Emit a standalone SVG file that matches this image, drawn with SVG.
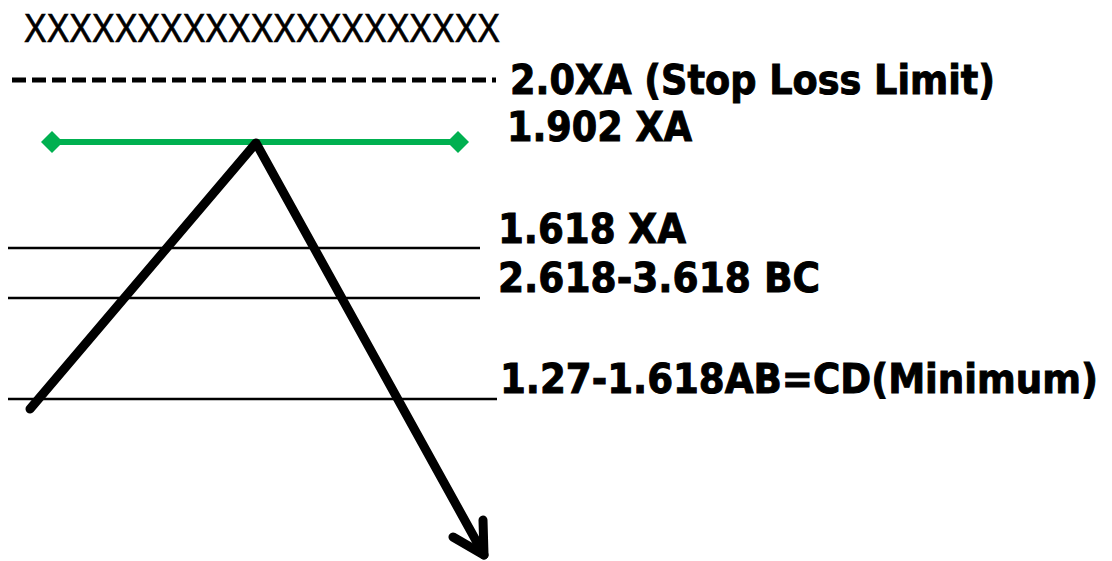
<svg xmlns="http://www.w3.org/2000/svg" width="1112" height="561" viewBox="0 0 1112 561">
<style>
.lbl{font-family:"DejaVu Sans",Verdana,sans-serif;font-weight:bold;font-size:40px;fill:#000;stroke:#000;stroke-width:1}
.thin{stroke:#000;stroke-width:2.5;fill:none}
.leg{stroke:#000;stroke-width:9;fill:none;stroke-linecap:round;stroke-linejoin:round}
.dia{fill:#00B050}
</style>
<rect width="1112" height="561" fill="#fff"/>
<g id="title">
<text x="24" y="42" font-family="Liberation Sans,Arial,sans-serif" font-size="41" stroke="#000" stroke-width="0.7" textLength="476" lengthAdjust="spacingAndGlyphs">XXXXXXXXXXXXXXXXXXXXX</text>
</g>
<g id="levels">
<line x1="12" y1="80" x2="496" y2="80" stroke="#000" stroke-width="5" stroke-dasharray="14 6"/>
<line x1="8" y1="248" x2="480" y2="248" class="thin"/>
<line x1="8" y1="298" x2="480" y2="298" class="thin"/>
<line x1="8" y1="399" x2="497" y2="399" class="thin"/>
</g>
<g id="green">
<line x1="52" y1="142" x2="458" y2="142" stroke="#00B050" stroke-width="6"/>
<path class="dia" d="M41 142L52 131L63 142L52 153Z"/>
<path class="dia" d="M447 142L458 131L469 142L458 153Z"/>
</g>
<g id="connectors">
<polyline points="30,409 256,143 484,555" class="leg"/>
<polyline points="453,537 484,555 483,520" class="leg"/>
</g>
<g id="labels">
<text class="lbl" x="510" y="94" textLength="485" lengthAdjust="spacingAndGlyphs">2.0XA (Stop Loss Limit)</text>
<text class="lbl" x="507" y="141" textLength="185" lengthAdjust="spacingAndGlyphs">1.902 XA</text>
<text class="lbl" x="498" y="243" textLength="188" lengthAdjust="spacingAndGlyphs">1.618 XA</text>
<text class="lbl" x="498" y="292" textLength="322" lengthAdjust="spacingAndGlyphs">2.618-3.618 BC</text>
<text class="lbl" x="500" y="393" font-size="38" textLength="598" lengthAdjust="spacingAndGlyphs">1.27-1.618AB=CD(Minimum)</text>
</g>
</svg>
